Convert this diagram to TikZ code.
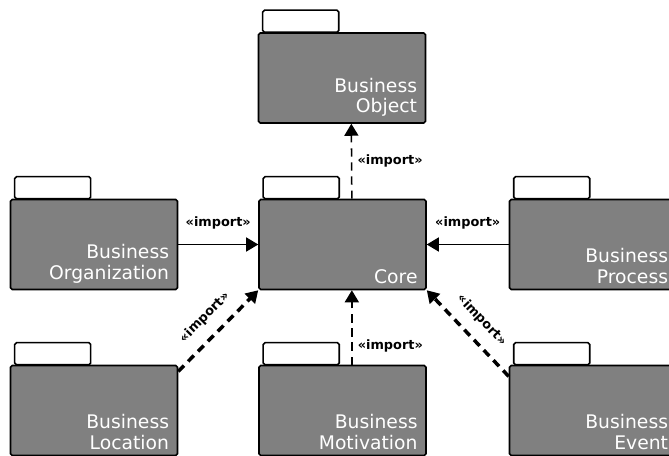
\documentclass[tikz,border=0pt]{standalone}
\usepackage{fontspec}
\setmainfont{DejaVu Sans}
\usetikzlibrary{arrows.meta}

% one package: body, tab and name
\newcommand{\pkgfolder}[3]{%
  \node[folder] (#1) at (#2) {};
  \node[pkgtext] (#1-text) at (#1.south east) {#3};
  \draw[pkgtab] ([xshift=0.15cm]#1.north west) rectangle ++(76,22);
}

\begin{document}
\begin{tikzpicture}[x=0.03cm,y=0.03cm,
    folder/.style={draw=black,line width=1.3pt,fill=black!50,rounded corners=1.5pt,
      minimum width=5.01cm,minimum height=2.7cm,inner sep=0pt},
    pkgtab/.style={draw=black,line width=1.3pt,fill=white,rounded corners=1.5pt},
    pkgtext/.style={anchor=south east,text=white,align=right,inner xsep=0.27cm,
      inner ysep=0.2cm,font=\fontsize{16}{17.5}\selectfont},
    imp/.style={line width=1.3pt,-{Triangle[width=0.42cm,length=0.36cm]}},
    impdash/.style={imp,dash pattern=on 7pt off 5pt},
    impthick/.style={line width=3pt,dash pattern=on 7pt off 5pt,
      -{Triangle[width=0.42cm,length=0.36cm]}},
    implabel/.style={font=\fontsize{11}{12}\bfseries\selectfont,text=black,inner sep=1pt}]
  \useasboundingbox (0,0) rectangle (669,456);
  \clip (0,0) rectangle (669,456);

  \pkgfolder{obj}{342,378}{Business\\Object}
  \pkgfolder{org}{94,211.5}{Business\\Organization}
  \pkgfolder{core}{342.5,211.5}{Core}
  \pkgfolder{proc}{593,211.5}{Business\\Process}
  \pkgfolder{loc}{94,45.5}{Business\\Location}
  \pkgfolder{mot}{342.5,45.5}{Business\\Motivation}
  \pkgfolder{evt}{593,45.5}{Business\\Event}

  % imports into and out of the core
  \draw[impdash] ([xshift=0.28cm]core.north) -- ([xshift=0.28cm]obj.south)
    node[implabel,midway,right=0.12cm] (l-obj) {«import»};
  \draw[imp] (org) -- (core)
    node[implabel,midway,above=0.4cm] (l-org) {«import»};
  \draw[imp] (proc) -- (core)
    node[implabel,midway,above=0.4cm] (l-proc) {«import»};
  \draw[impdash] ([xshift=0.28cm]mot.north) -- ([xshift=0.28cm]core.south)
    node[implabel,pos=0.25,right=0.12cm] (l-mot) {«import»};
  \draw[impthick] ([yshift=-0.2cm]loc.north east) -- (core.south west)
    node[implabel,midway,sloped,above=0.3cm] (l-loc) {«import»};
  \draw[impthick] ([yshift=-0.35cm]evt.north west) -- (core.south east)
    node[implabel,midway,sloped,above=0.3cm] (l-evt) {«import»};
\end{tikzpicture}
\end{document}
